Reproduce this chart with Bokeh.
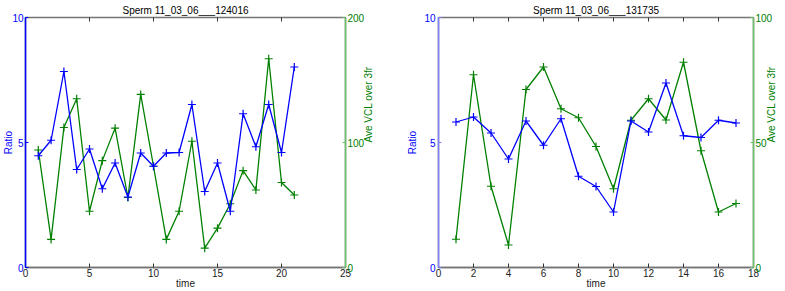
import math
from bokeh.plotting import figure
from bokeh.models import Range1d, LinearAxis, FixedTicker
from bokeh.layouts import row
from bokeh.embed import file_html
from bokeh.resources import INLINE

# ---- data ----
time_a = list(range(1, 22))
ratio_a = [4.47, 5.09, 7.84, 3.92, 4.74, 3.15, 4.18, 2.82, 4.58, 4.05, 4.58,
           4.60, 6.52, 3.04, 4.18, 2.25, 6.15, 4.83, 6.52, 4.60, 8.02]
vcl_a = [94, 22.5, 112, 135, 45, 85.5, 111.5, 56, 138.5, 81, 22.5,
         45, 101, 15.5, 31.5, 51, 77.5, 62, 167, 68, 58]

time_b = list(range(1, 18))
ratio_b = [5.82, 6.02, 5.38, 4.34, 5.86, 4.89, 5.95, 3.65, 3.24, 2.22, 5.86,
           5.42, 7.38, 5.27, 5.20, 5.89, 5.78]
vcl_b = [11.3, 77.1, 32.5, 9.0, 71.2, 80.2, 63.5, 59.9, 48.4, 31.5, 58.9,
         67.5, 59.0, 82.1, 46.7, 22.2, 25.6]

titles = ["Sperm 11_03_06___124016", "Sperm 11_03_06___131735"]
x_ticks_a = [0, 5, 10, 15, 20, 25]
x_ticks_b = [0, 2, 4, 6, 8, 10, 12, 14, 16, 18]
ratio_ticks = [0, 5, 10]
vcl_ticks_a = [0, 100, 200]
vcl_ticks_b = [0, 50, 100]

FONT = "Liberation Sans"
BLUE = "#0000ff"
GREEN = "#008000"
GRAY = "#747474"
LGREEN = "#6cc06c"


def style_axis(ax, line_col, label_col, tick_in, lab_standoff, ax_standoff):
    ax.axis_line_color = line_col
    ax.axis_line_width = 1.5
    ax.major_tick_line_color = line_col
    ax.major_tick_in = tick_in
    ax.major_tick_out = 0
    ax.minor_tick_line_color = None
    ax.major_label_text_font = FONT
    ax.major_label_text_font_size = "10px"
    ax.major_label_text_color = label_col
    ax.major_label_standoff = lab_standoff
    ax.axis_label_text_font = FONT
    ax.axis_label_text_font_size = "10px"
    ax.axis_label_text_font_style = "normal"
    ax.axis_label_text_color = label_col
    ax.axis_label_standoff = ax_standoff


def make(title, t, ratio, vcl, xmax, xticks, vmax, vticks, width,
         bl, br, left_axis_col, l_std, r_std):
    p = figure(width=width, height=291, output_backend="svg",
               toolbar_location=None, x_range=Range1d(0, xmax),
               y_range=Range1d(ratio_ticks[0], ratio_ticks[-1]),
               x_axis_location=None, y_axis_location=None,
               min_border_left=bl, min_border_right=br,
               min_border_top=16, min_border_bottom=23)
    p.extra_y_ranges = {"vcl": Range1d(vticks[0], vticks[-1])}
    p.grid.visible = False
    p.outline_line_color = GRAY
    p.outline_line_width = 1.5
    p.background_fill_color = "white"
    p.border_fill_color = "white"

    p.title.text = title
    p.title.align = "center"
    p.title.text_font = FONT
    p.title.text_font_size = "10px"
    p.title.text_font_style = "normal"
    p.title.text_color = "#000000"
    p.title.standoff = 4
    p.title.offset = 0

    # bottom axis
    xb = LinearAxis(ticker=FixedTicker(ticks=xticks), axis_label="time")
    style_axis(xb, GRAY, "#222222", 4, 1, -2)
    xb.axis_label_text_color = "#222222"
    xb.major_tick_line_color = "#333333"
    p.add_layout(xb, "below")

    # top inward ticks (tick positions at top edge of the frame)
    p.scatter(xticks, [ratio_ticks[-1]] * len(xticks), marker="dash",
              angle=math.pi / 2, size=8, line_color="#333333", line_width=1)

    # left ratio axis
    yl = LinearAxis(ticker=FixedTicker(ticks=ratio_ticks), axis_label="Ratio")
    style_axis(yl, left_axis_col, BLUE, 3, 2 if l_std < 0 else 3, l_std)
    p.add_layout(yl, "left")

    # right vcl axis
    yr = LinearAxis(y_range_name="vcl", ticker=FixedTicker(ticks=vticks),
                    axis_label="Ave VCL over 3fr")
    style_axis(yr, LGREEN, GREEN, 3, 2, r_std)
    if "axis_label_orientation" in yr.properties():
        yr.axis_label_orientation = math.pi / 2
    p.add_layout(yr, "right")

    p.line(t, vcl, y_range_name="vcl", line_color=GREEN, line_width=1.3)
    p.scatter(t, vcl, y_range_name="vcl", marker="cross", size=8,
              line_color=GREEN, line_width=1.2)
    p.line(t, ratio, line_color=BLUE, line_width=1.3)
    p.scatter(t, ratio, marker="cross", size=8, line_color=BLUE,
              line_width=1.2)
    return p


p1 = make(titles[0], time_a, ratio_a, vcl_a, x_ticks_a[-1], x_ticks_a,
          vcl_ticks_a[-1], vcl_ticks_a, 392, 24, 47, BLUE, -5, 1)
p2 = make(titles[1], time_b, ratio_b, vcl_b, x_ticks_b[-1], x_ticks_b,
          vcl_ticks_b[-1], vcl_ticks_b, 393, 46, 28, "#7f7fff", 3, -4)

layout = row(p1, p2, spacing=0)

open("out.html", "w").write(file_html(layout, INLINE))
